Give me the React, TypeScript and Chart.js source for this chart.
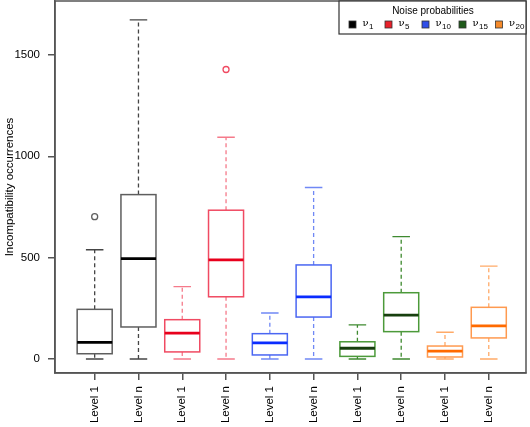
import React, { useEffect, useRef } from "react";
import { Chart, registerables } from "chart.js";

Chart.register(...registerables);

const categories = ["Level 1", "Level n", "Level 1", "Level n", "Level 1", "Level n", "Level 1", "Level n", "Level 1", "Level n"];
const lowerWhisker = [0, 0, 0, 0, 0, 0, 0, 0, 0, 0];
const q1 = [26, 158, 35, 307, 20, 207, 13, 135, 10, 104];
const medians = [82, 495, 128, 489, 80, 307, 53, 216, 39, 163];
const q3 = [245, 811, 194, 734, 125, 464, 85, 327, 64, 255];
const upperWhisker = [539, 1673, 357, 1094, 227, 846, 168, 604, 132, 458];
const outlierIndex = [0, 3];
const outlierValues = [702, 1428];
const yTicks = [0, 500, 1000, 1500];
const legendTitle = "Noise probabilities";
const legendSubscripts = ["1", "5", "10", "15", "20"];

const groupStyles = [
  { border: "#5e5e5e", whisker: "#454545", median: "#000000", legend: "#000000" },
  { border: "#f04a62", whisker: "#f57a8a", median: "#e8001c", legend: "#e8202a" },
  { border: "#4a66f2", whisker: "#7088f5", median: "#0a2cff", legend: "#2f4ee8" },
  { border: "#4c9a3a", whisker: "#3f8a30", median: "#173f0e", legend: "#1f5a1a" },
  { border: "#ff9a50", whisker: "#ffaa68", median: "#ff6a00", legend: "#f58a2a" },
];

const FONT = "'Liberation Sans', Arial, sans-serif";

const boxPlugin = {
  id: "boxes",
  beforeDatasetsDraw(chart: any) {
    const { ctx, scales } = chart;
    const x = scales.x;
    const y = scales.y;
    ctx.save();
    for (let i = 0; i < categories.length; i++) {
      const st = groupStyles[Math.floor(i / 2)];
      const xc = x.getPixelForValue(i + 1);
      const half = x.getPixelForValue(i + 1.4) - xc;
      const capHalf = half / 2;
      const yl = y.getPixelForValue(lowerWhisker[i]);
      const y1 = y.getPixelForValue(q1[i]);
      const ym = y.getPixelForValue(medians[i]);
      const y3 = y.getPixelForValue(q3[i]);
      const yu = y.getPixelForValue(upperWhisker[i]);
      ctx.strokeStyle = st.whisker;
      ctx.lineWidth = 1.3;
      ctx.setLineDash([4, 3]);
      ctx.beginPath();
      ctx.moveTo(xc, y3);
      ctx.lineTo(xc, yu);
      ctx.moveTo(xc, y1);
      ctx.lineTo(xc, yl);
      ctx.stroke();
      ctx.setLineDash([]);
      ctx.beginPath();
      ctx.moveTo(xc - capHalf, yu);
      ctx.lineTo(xc + capHalf, yu);
      ctx.moveTo(xc - capHalf, yl);
      ctx.lineTo(xc + capHalf, yl);
      ctx.stroke();
      ctx.fillStyle = "#ffffff";
      ctx.fillRect(xc - half, y3, 2 * half, y1 - y3);
      ctx.strokeStyle = st.border;
      ctx.lineWidth = 1.5;
      ctx.strokeRect(xc - half, y3, 2 * half, y1 - y3);
      ctx.strokeStyle = st.median;
      ctx.lineWidth = 2.8;
      ctx.beginPath();
      ctx.moveTo(xc - half, ym);
      ctx.lineTo(xc + half, ym);
      ctx.stroke();
    }
    ctx.restore();
  },
  afterDraw(chart: any) {
    const { ctx, chartArea } = chart;
    ctx.save();
    ctx.strokeStyle = "#555555";
    ctx.lineWidth = 1.5;
    ctx.strokeRect(chartArea.left, chartArea.top, chartArea.right - chartArea.left, chartArea.bottom - chartArea.top);
    const lx = 339;
    const ly = chartArea.top;
    const lw = chartArea.right - lx;
    const lh = 33;
    ctx.fillStyle = "#ffffff";
    ctx.fillRect(lx, ly, lw, lh);
    ctx.strokeStyle = "#333333";
    ctx.lineWidth = 1.2;
    ctx.strokeRect(lx, ly, lw, lh);
    ctx.fillStyle = "#000000";
    ctx.font = `10px ${FONT}`;
    ctx.textAlign = "center";
    ctx.textBaseline = "middle";
    ctx.fillText(legendTitle, 433, ly + 10);
    const itemX = [352.5, 388.5, 425.5, 462.5, 499];
    const iy = ly + 23.5;
    for (let k = 0; k < legendSubscripts.length; k++) {
      const st = groupStyles[k];
      ctx.fillStyle = st.legend;
      ctx.fillRect(itemX[k] - 3.5, iy - 3.5, 7, 7);
      ctx.strokeStyle = "#333333";
      ctx.lineWidth = 0.8;
      ctx.strokeRect(itemX[k] - 3.5, iy - 3.5, 7, 7);
      ctx.fillStyle = "#000000";
      ctx.textAlign = "left";
      ctx.font = `10px 'DejaVu Serif', serif`;
      const tx = itemX[k] + 10;
      ctx.fillText("\u03bd", tx, iy - 1);
      const w = ctx.measureText("\u03bd").width;
      ctx.font = `8px ${FONT}`;
      ctx.fillText(legendSubscripts[k], tx + w + 0.5, iy + 2);
    }
    ctx.restore();
  },
};

export default function App() {
  const ref = useRef<HTMLCanvasElement>(null);
  useEffect(() => {
    if (!ref.current) return;
    const chart = new Chart(ref.current, {
      type: "scatter",
      data: {
        datasets: [
          {
            data: outlierIndex.map((idx, k) => ({ x: idx + 1, y: outlierValues[k] })),
            pointStyle: "circle",
            pointRadius: 3,
            pointBorderWidth: 1.3,
            pointBackgroundColor: "#ffffff",
            pointBorderColor: outlierIndex.map((idx) => groupStyles[Math.floor(idx / 2)].border),
          },
        ],
      },
      plugins: [boxPlugin],
      options: {
        responsive: false,
        animation: false,
        layout: { autoPadding: false, padding: { top: 1, right: 4, left: 0, bottom: 0 } },
        plugins: { legend: { display: false }, tooltip: { enabled: false } },
        scales: {
          x: {
            type: "linear",
            min: 0.094,
            max: 10.85,
            afterBuildTicks(scale: any) {
              scale.ticks = categories.map((_, i) => ({ value: i + 1 }));
            },
            afterFit(scale: any) {
              scale.height = 54;
              scale.paddingLeft = 0;
              scale.paddingRight = 0;
            },
            ticks: {
              autoSkip: false,
              minRotation: 90,
              maxRotation: 90,
              padding: 6,
              color: "#000000",
              font: { family: FONT, size: 11.5 },
              callback: (_v: any, i: number) => categories[i],
            },
            grid: { drawOnChartArea: false, drawTicks: true, tickLength: 7, color: "#555555", lineWidth: 1.5 },
            border: { display: true, color: "#555555", width: 1.5 },
          },
          y: {
            min: -69,
            max: 1766,
            afterBuildTicks(scale: any) {
              scale.ticks = yTicks.map((v) => ({ value: v }));
            },
            afterFit(scale: any) {
              scale.width = 55;
              scale.paddingTop = 0;
              scale.paddingBottom = 0;
            },
            ticks: {
              padding: 8,
              color: "#000000",
              font: { family: FONT, size: 11.5 },
              callback: (v: any) => String(v),
            },
            title: {
              display: true,
              text: "Incompatibility occurrences",
              color: "#000000",
              font: { family: FONT, size: 11.5 },
              padding: { top: 3, bottom: 0 },
            },
            grid: { drawOnChartArea: false, drawTicks: true, tickLength: 7, color: "#555555", lineWidth: 1.5 },
            border: { display: true, color: "#555555", width: 1.5 },
          },
        },
      },
    });
    return () => chart.destroy();
  }, []);
  return (
    <div style={{ position: "fixed", left: 0, top: 0, width: 530, height: 427, background: "#fff" }}>
      <canvas ref={ref} width={530} height={427} />
    </div>
  );
}
